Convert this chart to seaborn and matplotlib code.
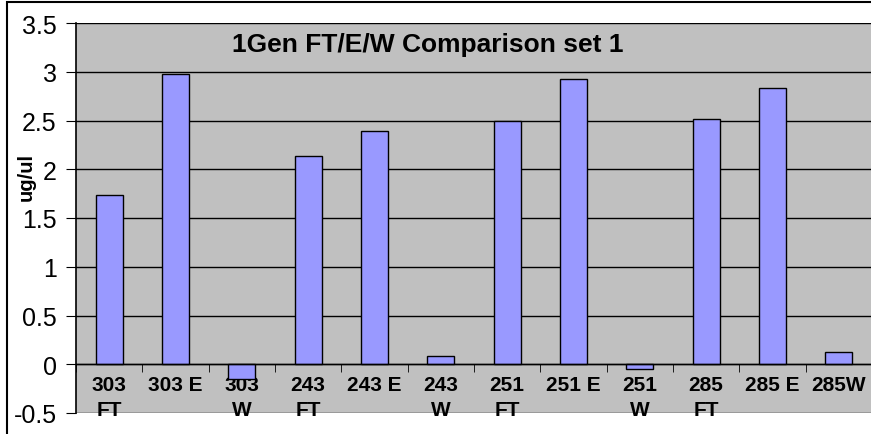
import numpy as np
import pandas as pd
import seaborn as sns
import matplotlib.pyplot as plt
from matplotlib.patches import Rectangle
from matplotlib.ticker import MultipleLocator, FuncFormatter

# data
samples = ["303\nFT", "303 E", "303\nW", "243\nFT", "243 E", "243\nW",
           "251\nFT", "251 E", "251\nW", "285\nFT", "285 E", "285W"]
conc = [1.74, 2.98, -0.15, 2.14, 2.39, 0.08, 2.50, 2.93, -0.05, 2.52, 2.83, 0.13]

df = pd.DataFrame({"sample": samples, "ug_ul": conc})

plt.rcParams["font.family"] = ["Liberation Sans", "DejaVu Sans"]

fig = plt.figure(figsize=(8.71, 4.35), dpi=100)
ax = fig.add_axes([76 / 871, 21 / 435, 796 / 871, 390 / 435])
ax.set_facecolor("#C0C0C0")

sns.barplot(data=df, x="sample", y="ug_ul", ax=ax, color="#9999FF",
            saturation=1, width=0.41, edgecolor="black", linewidth=1)

ax.set_ylim(-0.5, 3.5)
ax.set_xlim(-0.5, len(samples) - 0.5)
ax.yaxis.set_major_locator(MultipleLocator(0.5))
ax.yaxis.set_major_formatter(FuncFormatter(lambda v, p: f"{v:g}"))
ax.yaxis.grid(True, color="black", lw=1)
ax.set_axisbelow(True)

# x axis sits on the zero line
ax.spines["bottom"].set_position(("data", 0))
ax.spines["bottom"].set_linewidth(1)
for s in ["top", "right"]:
    ax.spines[s].set_visible(False)
ax.spines["left"].set_linewidth(1.2)

ax.set_xticks(np.arange(len(samples) + 1) - 0.5, minor=True)
ax.tick_params(axis="x", which="major", length=0, pad=8, labelsize=15)
ax.tick_params(axis="x", which="minor", length=6, direction="out", color="black")
ax.tick_params(axis="y", length=7, labelsize=18, pad=7)
for lab in ax.get_xticklabels():
    lab.set_fontweight("bold")
    lab.set_linespacing(1.4)
    lab.set_verticalalignment("top")

ax.set_xlabel("")
ax.set_ylabel("")
fig.text(26 / 871, 1 - 177 / 435, "ug/ul", rotation=90, fontsize=14.5,
         fontweight="bold", ha="center", va="center")
fig.text(428 / 871, 1 - 45 / 435, "1Gen FT/E/W Comparison set 1", fontsize=19,
         fontweight="bold", ha="center", va="center")

# outer chart border
fig.patches.append(Rectangle((7 / 871, -0.1), 1.2, 1.1 - 3 / 435,
                             transform=fig.transFigure, fill=False,
                             edgecolor="black", lw=1.5))

fig.savefig("out.png", dpi=100)
